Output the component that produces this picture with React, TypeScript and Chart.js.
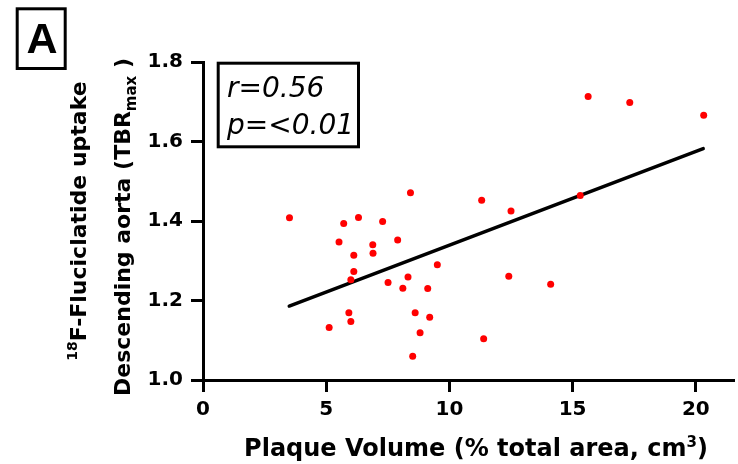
import React, { useEffect, useRef } from "react";
import { Chart, registerables } from "chart.js";

Chart.register(...registerables);

// ---- data ----
const plaqueVolume = [
  3.51, 5.71, 6.31, 7.29, 5.52, 6.89, 7.9, 6.9, 6.12, 9.51, 6.12, 6.0, 8.32, 7.51, 8.11, 9.12,
  5.92, 6.0, 5.12, 8.61, 9.2, 8.81, 8.51, 8.42, 11.31, 12.5, 15.31, 12.41, 14.11, 11.39, 15.63,
  17.32, 20.32,
];
const tbrMax = [
  1.408, 1.394, 1.409, 1.399, 1.347, 1.34, 1.352, 1.319, 1.314, 1.29, 1.273, 1.252, 1.259, 1.245,
  1.231, 1.23, 1.169, 1.147, 1.132, 1.169, 1.158, 1.119, 1.06, 1.471, 1.452, 1.425, 1.464, 1.261,
  1.241, 1.104, 1.713, 1.698, 1.666,
];
const fitX = [3.5, 20.3];
const fitY = [1.186, 1.582];

const xTicks = [0, 5, 10, 15, 20];
const yTicks = [1.0, 1.2, 1.4, 1.6, 1.8];
const yTickLabels = ["1.0", "1.2", "1.4", "1.6", "1.8"];

const panelLabel = "A";
const statR = "r=0.56";
const statP = "p=<0.01";
const xTitleMain = "Plaque Volume (% total area, cm";
const xTitleSup = "3";
const xTitleEnd = ")";
const yTitle1Sup = "18";
const yTitle1 = "F-Fluciclatide uptake";
const yTitle2 = "Descending aorta (TBR";
const yTitle2Sub = "max";
const yTitle2End = " )";

const FAMILY = '"DejaVu Sans"';

type Seg = { text: string; font: string; dy?: number };

function drawRich(ctx: CanvasRenderingContext2D, segs: Seg[], x: number, y: number) {
  let w = 0;
  for (const s of segs) {
    ctx.font = s.font;
    w += ctx.measureText(s.text).width;
  }
  let cx = x - w / 2;
  for (const s of segs) {
    ctx.font = s.font;
    ctx.fillText(s.text, cx, y + (s.dy || 0));
    cx += ctx.measureText(s.text).width;
  }
}

const textPlugin = {
  id: "panelText",
  afterDraw(chart: any) {
    const ctx: CanvasRenderingContext2D = chart.ctx;
    ctx.save();
    ctx.fillStyle = "#000";
    ctx.strokeStyle = "#000";
    ctx.textBaseline = "alphabetic";
    ctx.textAlign = "left";

    // panel letter
    ctx.lineWidth = 3;
    ctx.strokeRect(17.2, 8.8, 48, 59.7);
    ctx.font = 'bold 43px "Liberation Sans"';
    ctx.textAlign = "center";
    ctx.fillText(panelLabel, 42, 53);

    // statistics box
    ctx.textAlign = "left";
    ctx.strokeRect(218.2, 63.2, 140.3, 83.6);
    ctx.font = "italic 28px " + FAMILY;
    ctx.fillText(statR, 227, 97);
    ctx.fillText(statP, 227, 134);

    // x title
    drawRich(
      ctx,
      [
        { text: xTitleMain, font: "bold 24px " + FAMILY },
        { text: xTitleSup, font: "bold 15px " + FAMILY, dy: -9 },
        { text: xTitleEnd, font: "bold 24px " + FAMILY },
      ],
      476,
      456
    );

    // y title (rotated)
    ctx.save();
    ctx.translate(86, 221);
    ctx.rotate(-Math.PI / 2);
    drawRich(
      ctx,
      [
        { text: yTitle1Sup, font: "bold 14px " + FAMILY, dy: -9 },
        { text: yTitle1, font: "bold 22px " + FAMILY },
      ],
      0,
      0
    );
    ctx.restore();
    ctx.save();
    ctx.translate(130, 227);
    ctx.rotate(-Math.PI / 2);
    drawRich(
      ctx,
      [
        { text: yTitle2, font: "bold 22px " + FAMILY },
        { text: yTitle2Sub, font: "bold 15px " + FAMILY, dy: 6 },
        { text: yTitle2End, font: "bold 22px " + FAMILY },
      ],
      0,
      0
    );
    ctx.restore();

    ctx.restore();
  },
};

export default function App() {
  const ref = useRef<HTMLCanvasElement | null>(null);

  useEffect(() => {
    if (!ref.current) return;
    const tickFont = { family: FAMILY, size: 20, weight: "bold" as const };
    const chart = new Chart(ref.current, {
      type: "scatter",
      data: {
        datasets: [
          {
            type: "scatter",
            data: plaqueVolume.map((x, i) => ({ x, y: tbrMax[i] })),
            backgroundColor: "#ff0000",
            borderWidth: 0,
            pointRadius: 3.5,
          },
          {
            type: "line",
            data: fitX.map((x, i) => ({ x, y: fitY[i] })),
            borderColor: "#000",
            borderWidth: 3.5,
            pointRadius: 0,
            fill: false,
            borderCapStyle: "round",
          } as any,
        ],
      },
      options: {
        animation: false,
        responsive: false,
        devicePixelRatio: 1,
        layout: { padding: { top: 62, right: 4, left: 0, bottom: 0 } },
        plugins: { legend: { display: false }, tooltip: { enabled: false } },
        scales: {
          x: {
            type: "linear",
            position: "bottom",
            min: 0,
            max: 21.55,
            afterBuildTicks: (s: any) => {
              s.ticks = xTicks.map((v) => ({ value: v }));
            },
            afterFit: (s: any) => {
              s.height = 84;
            },
            ticks: {
              font: tickFont,
              color: "#000",
              padding: 6,
              maxRotation: 0,
              autoSkip: false,
              callback: (v: any) => String(v),
            },
            grid: {
              drawOnChartArea: false,
              drawTicks: true,
              tickLength: 12,
              tickWidth: 3,
              tickColor: "#000",
              color: "#000",
            },
            border: { color: "#000", width: 3 },
          },
          y: {
            type: "linear",
            min: 1.0,
            max: 1.8,
            afterBuildTicks: (s: any) => {
              s.ticks = yTicks.map((v) => ({ value: v }));
            },
            afterFit: (s: any) => {
              s.width = 203;
            },
            ticks: {
              font: tickFont,
              color: "#000",
              padding: 8,
              autoSkip: false,
              callback: (v: any) => {
                const i = yTicks.findIndex((t) => Math.abs(t - v) < 1e-6);
                return i >= 0 ? yTickLabels[i] : "";
              },
            },
            grid: {
              drawOnChartArea: false,
              drawTicks: true,
              tickLength: 12,
              tickWidth: 3,
              tickColor: "#000",
              color: "#000",
            },
            border: { color: "#000", width: 3 },
          },
        },
      },
      plugins: [textPlugin],
    });
    return () => chart.destroy();
  }, []);

  return (
    <div style={{ position: "fixed", left: 0, top: 0, width: 738, height: 464, background: "#fff" }}>
      <canvas ref={ref} width={738} height={464} style={{ width: 738, height: 464, display: "block" }} />
    </div>
  );
}
